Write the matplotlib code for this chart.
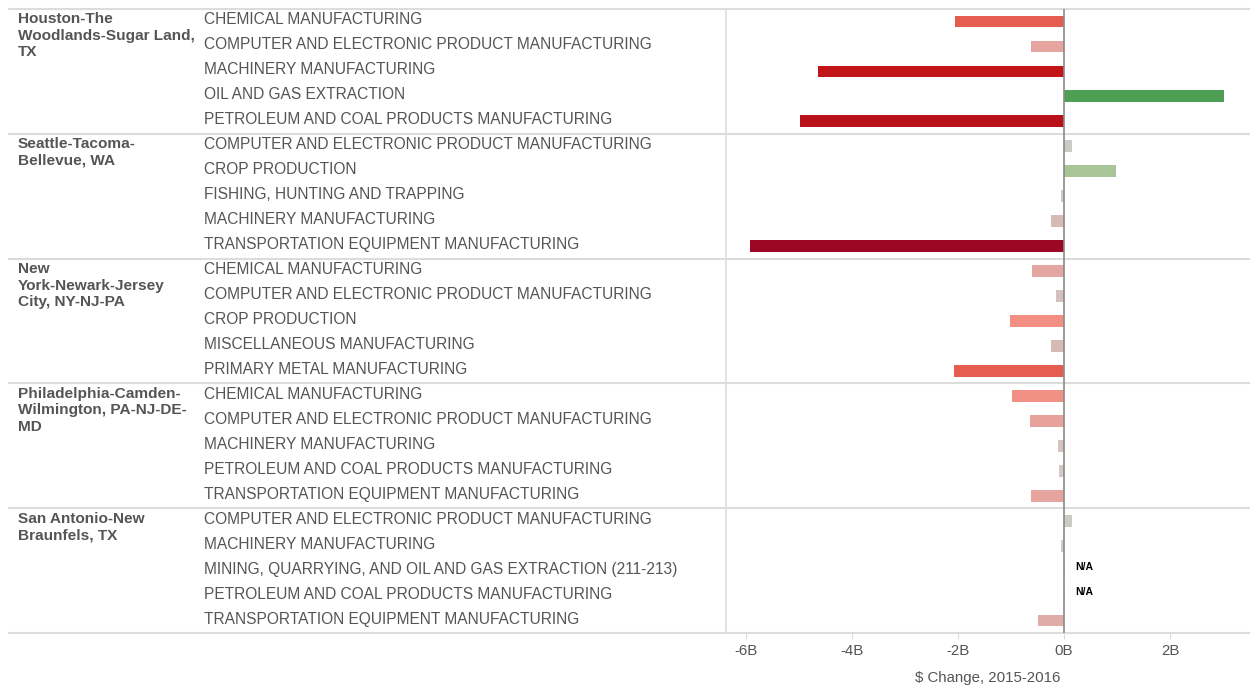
import matplotlib.pyplot as plt
import matplotlib.transforms as mtransforms
from matplotlib.colors import LinearSegmentedColormap, Normalize
import numpy as np

plt.rcParams['font.family'] = ['Liberation Sans', 'DejaVu Sans']

# Data: metro areas, their industries and $ change 2015-2016 (billions)
metros = [
    "Houston-The\nWoodlands-Sugar Land,\nTX",
    "Seattle-Tacoma-\nBellevue, WA",
    "New\nYork-Newark-Jersey\nCity, NY-NJ-PA",
    "Philadelphia-Camden-\nWilmington, PA-NJ-DE-\nMD",
    "San Antonio-New\nBraunfels, TX",
]
industries = [
    ["CHEMICAL MANUFACTURING",
     "COMPUTER AND ELECTRONIC PRODUCT MANUFACTURING",
     "MACHINERY MANUFACTURING",
     "OIL AND GAS EXTRACTION",
     "PETROLEUM AND COAL PRODUCTS MANUFACTURING"],
    ["COMPUTER AND ELECTRONIC PRODUCT MANUFACTURING",
     "CROP PRODUCTION",
     "FISHING, HUNTING AND TRAPPING",
     "MACHINERY MANUFACTURING",
     "TRANSPORTATION EQUIPMENT MANUFACTURING"],
    ["CHEMICAL MANUFACTURING",
     "COMPUTER AND ELECTRONIC PRODUCT MANUFACTURING",
     "CROP PRODUCTION",
     "MISCELLANEOUS MANUFACTURING",
     "PRIMARY METAL MANUFACTURING"],
    ["CHEMICAL MANUFACTURING",
     "COMPUTER AND ELECTRONIC PRODUCT MANUFACTURING",
     "MACHINERY MANUFACTURING",
     "PETROLEUM AND COAL PRODUCTS MANUFACTURING",
     "TRANSPORTATION EQUIPMENT MANUFACTURING"],
    ["COMPUTER AND ELECTRONIC PRODUCT MANUFACTURING",
     "MACHINERY MANUFACTURING",
     "MINING, QUARRYING, AND OIL AND GAS EXTRACTION (211-213)",
     "PETROLEUM AND COAL PRODUCTS MANUFACTURING",
     "TRANSPORTATION EQUIPMENT MANUFACTURING"],
]
changes = [
    [-2.06, -0.62, -4.65, 3.02, -4.98],
    [0.15, 0.99, -0.05, -0.25, -5.93],
    [-0.60, -0.15, -1.02, -0.25, -2.08],
    [-0.98, -0.65, -0.11, -0.09, -0.62],
    [0.15, -0.05, np.nan, np.nan, -0.50],
]
xticks = [-6, -4, -2, 0, 2]
xticklabels = ["-6B", "-4B", "-2B", "0B", "2B"]

# diverging red-grey-green palette
vmin, vmax = -6.0, 3.2
nodes = [(-6.0, "#9b0824"), (-4.7, "#c01417"), (-2.0, "#e75f51"),
         (-1.0, "#f28f83"), (-0.6, "#e4a59f"), (-0.2, "#d6bcb8"),
         (0.0, "#d3cfcd"), (0.2, "#c9cbc4"), (1.1, "#a5c492"), (3.2, "#469a50")]
cmap = LinearSegmentedColormap.from_list(
    "div", [((v - vmin) / (vmax - vmin), c) for v, c in nodes])
norm = Normalize(vmin, vmax)

W, H = 1250, 686
fig = plt.figure(figsize=(W / 100, H / 100), dpi=100)
ax = fig.add_axes([726 / W, (H - 633) / H, (W - 726) / W, (633 - 9) / H])

n_rows = sum(len(g) for g in industries)
ax.set_ylim(n_rows, 0)
ax.set_xlim(-6.38, 3.51)

blend = mtransforms.blended_transform_factory(fig.transFigure, ax.transData)
line_col = "#dcdcdc"
text_col = "#555555"

row = 0
for gi, (metro, inds, vals) in enumerate(zip(metros, industries, changes)):
    ax.plot([9 / W, 1], [row, row], transform=blend, color=line_col,
            lw=1.5, clip_on=False, zorder=1)
    ax.text(18 / W, row + 0.14, metro, transform=blend, ha="left", va="top",
            fontsize=11.1, fontweight="bold", color=text_col, linespacing=1.22)
    for name, v in zip(inds, vals):
        y = row + 0.5
        ax.text(204 / W, y - 0.06, name, transform=blend, ha="left",
                va="center", fontsize=11.2, color=text_col)
        if np.isnan(v):
            ax.barh(y, 0.02, height=0.47, color="#e8e8e8", zorder=2)
            ax.annotate("N/A", (0, y - 0.15), xytext=(8, 0), textcoords="offset points",
                        ha="left", va="center", fontsize=7.5, fontweight="bold",
                        color="black")
        else:
            ax.barh(y, v, height=0.47, color=cmap(norm(v)), zorder=2)
        row += 1
ax.plot([9 / W, 1], [row, row], transform=blend, color=line_col,
        lw=1.5, clip_on=False, zorder=1)

ax.axvline(0, color="#8a8a8a", lw=1.2, zorder=3)

for s in ["top", "right", "bottom"]:
    ax.spines[s].set_visible(False)
ax.spines["left"].set_color(line_col)
ax.spines["left"].set_linewidth(1.2)

ax.set_yticks([])
ax.set_xticks(xticks)
ax.set_xticklabels(xticklabels)
ax.tick_params(axis="x", length=4, color=line_col, labelcolor=text_col,
               labelsize=10.8, pad=4)
ax.set_xlabel("$ Change, 2015-2016", fontsize=10.8, color=text_col, labelpad=9)

fig.savefig("out.png", dpi=100)
